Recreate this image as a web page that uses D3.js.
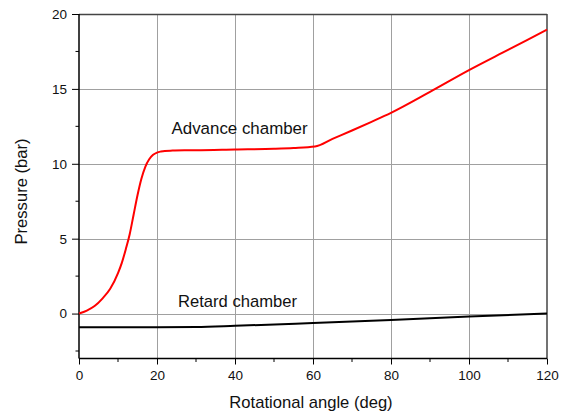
<!DOCTYPE html>
<html><head><meta charset="utf-8">
<script src="https://cdn.jsdelivr.net/npm/d3@7"></script>
<style>body{margin:0;background:#fff}svg text{font-family:"Liberation Sans",Arial,sans-serif}</style>
</head><body>
<svg id="c" width="567" height="414"></svg>
<script>
const xTicks = [0, 20, 40, 60, 80, 100, 120];
const yTicks = [0, 5, 10, 15, 20];
const advAngle = [0, 2, 4, 6, 8, 10, 11, 12, 13, 14, 15, 16, 17, 18, 19, 20, 21, 22, 24, 27, 30, 40, 50, 55, 60.5, 65, 70, 75, 80, 90, 100, 110, 120];
const advPressure = [0, 0.2, 0.5, 1.0, 1.65, 2.7, 3.4, 4.3, 5.3, 6.6, 7.9, 9.0, 9.8, 10.3, 10.6, 10.75, 10.82, 10.86, 10.88, 10.9, 10.9, 10.95, 11.0, 11.05, 11.15, 11.66, 12.22, 12.8, 13.4, 14.8, 16.25, 17.6, 18.95];
const retAngle = [0, 10, 20, 30, 40, 60, 80, 100, 120];
const retPressure = [-0.92, -0.92, -0.92, -0.9, -0.82, -0.63, -0.43, -0.2, 0.0];
const labels = ["Advance chamber", "Retard chamber"];

const svg = d3.select("#c");
const L = 79, R = 547, T = 14, B = 358.5;
const x = d3.scaleLinear().domain([0, 120]).range([L, R]);
const y = d3.scaleLinear().domain([-3, 20]).range([B, T]);

// grid
const g = svg.append("g");
g.selectAll(".gx").data(xTicks.slice(1, -1)).enter().append("line")
  .attr("x1", d => Math.round(x(d)) + 0.5).attr("x2", d => Math.round(x(d)) + 0.5)
  .attr("y1", T).attr("y2", B).attr("stroke", "#a0a0a0").attr("stroke-width", 1);
g.selectAll(".gy").data(yTicks.slice(0, -1)).enter().append("line")
  .attr("x1", L).attr("x2", R)
  .attr("y1", d => Math.round(y(d)) + 0.5).attr("y2", d => Math.round(y(d)) + 0.5)
  .attr("stroke", "#a0a0a0").attr("stroke-width", 1);

// frame top/right
svg.append("line").attr("x1", L).attr("x2", R).attr("y1", T + 0.5).attr("y2", T + 0.5).attr("stroke", "#444").attr("stroke-width", 1.5);
svg.append("line").attr("x1", R).attr("x2", R).attr("y1", T).attr("y2", B).attr("stroke", "#444").attr("stroke-width", 1.5);

// axes
const xAxis = d3.axisBottom(x).tickValues(xTicks).tickSize(6).tickPadding(6).tickFormat(d3.format("d"));
const xa = svg.append("g").attr("transform", `translate(0,${B})`).call(xAxis);
const xMinor = d3.range(10, 120, 20);
xa.selectAll(".mn").data(xMinor).enter().append("line").attr("x1", d => x(d)).attr("x2", d => x(d)).attr("y1", 0).attr("y2", 3.5).attr("stroke", "#000");

const yAxis = d3.axisLeft(y).tickValues(yTicks).tickSize(7).tickPadding(5).tickFormat(d3.format("d"));
const ya = svg.append("g").attr("transform", `translate(${L},0)`).call(yAxis);
const yMinor = [-2.5, 2.5, 7.5, 12.5, 17.5];
ya.selectAll(".mn").data(yMinor).enter().append("line").attr("x1", 0).attr("x2", -3.5).attr("y1", d => y(d)).attr("y2", d => y(d)).attr("stroke", "#000");

[xa, ya].forEach(a => {
  a.select(".domain").attr("stroke", "#000").attr("stroke-width", 1.5);
  a.selectAll(".tick line").attr("stroke", "#000");
  a.selectAll(".tick text").attr("font-size", 13.5).attr("fill", "#111").attr("font-family", "Liberation Sans, Arial, sans-serif");
});
ya.select(".domain").attr("d", `M0,${T}V${B}`);
xa.select(".domain").attr("d", `M${L},0H${R}`);

// lines
const line = d3.line().curve(d3.curveMonotoneX);
svg.append("path").datum(retAngle.map((a, i) => [x(a), y(retPressure[i])]))
  .attr("d", line).attr("fill", "none").attr("stroke", "#000").attr("stroke-width", 2);
svg.append("path").datum(advAngle.map((a, i) => [x(a), y(advPressure[i])]))
  .attr("d", line).attr("fill", "none").attr("stroke", "#ff0000").attr("stroke-width", 2);

// annotations
svg.append("text").attr("x", 171.5).attr("y", 133.5).attr("font-size", 16.9).attr("fill", "#111").text(labels[0]);
svg.append("text").attr("x", 178).attr("y", 306.5).attr("font-size", 16.6).attr("fill", "#111").text(labels[1]);

// axis titles
svg.append("text").attr("x", 311).attr("y", 408).attr("text-anchor", "middle").attr("font-size", 16.6).attr("fill", "#111").text("Rotational angle (deg)");
svg.append("text").attr("transform", `translate(26.5,191.5) rotate(-90)`).attr("text-anchor", "middle").attr("font-size", 16.6).attr("fill", "#111").text("Pressure (bar)");
</script>
</body></html>
